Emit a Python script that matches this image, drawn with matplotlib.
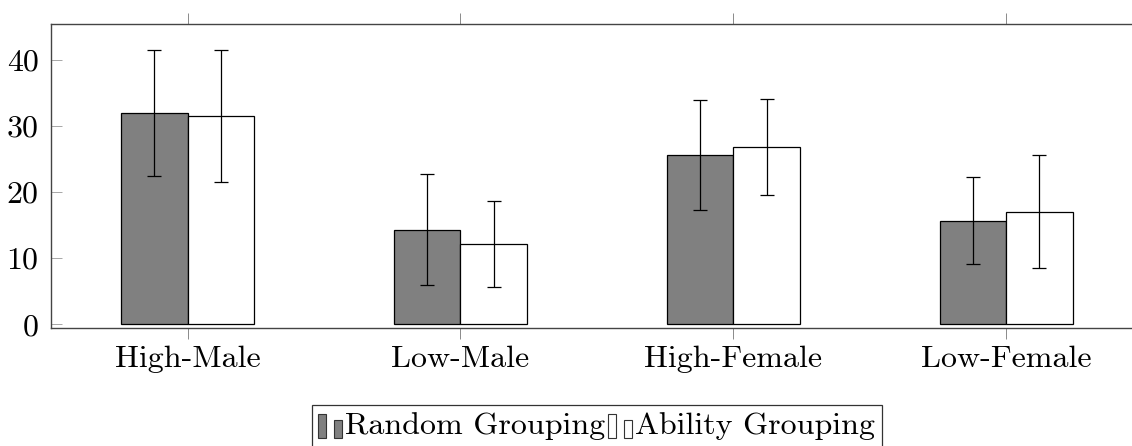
import numpy as np
import matplotlib
matplotlib.use("Agg")
import matplotlib.pyplot as plt
from matplotlib.patches import Rectangle
from matplotlib.legend_handler import HandlerBase

plt.rcParams['font.family'] = ['cmr10', 'DejaVu Serif']
plt.rcParams['mathtext.fontset'] = 'cm'
plt.rcParams['axes.formatter.use_mathtext'] = True

# data
categories = ['High-Male', 'Low-Male', 'High-Female', 'Low-Female']
series = ['Random Grouping', 'Ability Grouping']
random_mean = [32.0, 14.3, 25.6, 15.7]
random_err = [9.5, 8.4, 8.3, 6.65]
ability_mean = [31.5, 12.2, 26.8, 17.0]
ability_err = [10.0, 6.5, 7.25, 8.55]
yticks = [0, 10, 20, 30, 40]

colors = ['#808080', 'white']
fs = 23


class TwoBarHandler(HandlerBase):
    # pgfplots style ybar legend image: two little bars
    def create_artists(self, legend, orig_handle, xdescent, ydescent,
                       width, height, fontsize, trans):
        fc = orig_handle.get_facecolor()
        w = width * 0.33
        y0 = -ydescent - height * 0.12
        r1 = Rectangle((-xdescent, y0), w, height,
                       facecolor=fc, edgecolor='#333333', lw=0.8, transform=trans)
        r2 = Rectangle((-xdescent + width * 0.67, y0), w, height * 0.76,
                       facecolor=fc, edgecolor='#333333', lw=0.8, transform=trans)
        return [r1, r2]


fig = plt.figure(figsize=(11.32, 4.46), dpi=100)
ax = fig.add_axes([0.0451, 0.2646, 0.9643, 0.6827])

x = np.arange(len(categories))
bw = 0.244
b1 = ax.bar(x - bw / 2, random_mean, bw, color=colors[0], edgecolor='black',
            linewidth=0.9, label=series[0])
b2 = ax.bar(x + bw / 2, ability_mean, bw, color=colors[1], edgecolor='black',
            linewidth=0.9, label=series[1])
ax.errorbar(x - bw / 2, random_mean, yerr=random_err, fmt='none', ecolor='black',
            elinewidth=0.9, capsize=5, capthick=0.9)
ax.errorbar(x + bw / 2, ability_mean, yerr=ability_err, fmt='none', ecolor='black',
            elinewidth=0.9, capsize=5, capthick=0.9)

ax.set_xlim(-0.5, 3.5)
ax.set_ylim(-0.56, 45.5)
ax.set_xticks(x)
ax.set_xticklabels(categories, fontsize=fs)
ax.set_yticks(yticks)
ax.set_yticklabels([str(t) for t in yticks], fontsize=fs)

ax.tick_params(axis='x', direction='out', length=8, width=0.6, color='#777777',
               top=True, bottom=True, pad=5)
ax.tick_params(axis='y', direction='in', length=8, width=0.6, color='#999999',
               left=True, right=True, pad=9)
for s in ax.spines.values():
    s.set_linewidth(1.0)
    s.set_color('#444444')
ax.spines['right'].set_visible(False)

leg = fig.legend([b1.patches[0], b2.patches[0]], series, loc='upper center',
                 bbox_to_anchor=(0.527, 0.0926), ncol=2, fontsize=fs,
                 handler_map={Rectangle: TwoBarHandler()},
                 handlelength=0.75, handleheight=0.78, handletextpad=0.1,
                 columnspacing=0.08, borderpad=0.2, borderaxespad=0,
                 fancybox=False, framealpha=1, edgecolor='#333333')
leg.get_frame().set_linewidth(0.9)

fig.savefig('out.png', dpi=100)
